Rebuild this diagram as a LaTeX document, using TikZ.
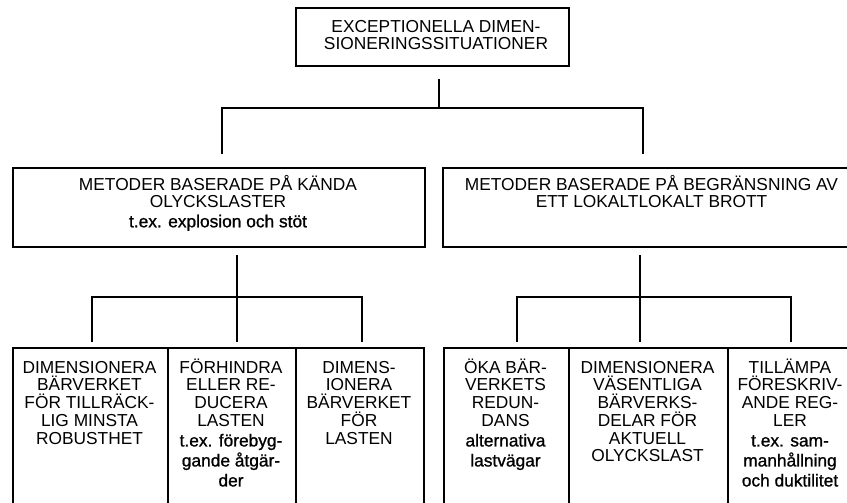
\documentclass[tikz,border=0pt]{standalone}
\usepackage{fontspec}
\setmainfont{Liberation Sans}
\newfontfamily\lcf{Liberation Sans}[FakeBold=1]
\newcommand\firststrut{\rule{0pt}{12.5pt}}
\begin{document}
\begin{tikzpicture}[x=0.75pt,y=-0.75pt,
  box/.style={draw, line width=1.5pt, inner sep=0pt, anchor=north west},
  txt/.style={anchor=north, inner sep=0pt, align=center,
    font=\fontsize{13}{13.3}\selectfont},
  conn/.style={line width=1.5pt, line join=miter}]
\useasboundingbox (0,0) rectangle (847,503);
\begin{scope}
\clip (0,0) rectangle (847,503);
% boxes
\node[box, minimum width=273*0.75pt, minimum height=58*0.75pt] (top) at (295,7) {};
\node[box, minimum width=412*0.75pt, minimum height=79*0.75pt] (ml) at (12,167) {};
\node[box, minimum width=419*0.75pt, minimum height=79*0.75pt] (mr) at (442,167) {};
\node[box, minimum width=155*0.75pt, minimum height=180*0.75pt] (b1) at (12,347) {};
\node[box, minimum width=128*0.75pt, minimum height=180*0.75pt] (b2) at (167,347) {};
\node[box, minimum width=128*0.75pt, minimum height=180*0.75pt] (b3) at (295,347) {};
\node[box, minimum width=125*0.75pt, minimum height=180*0.75pt] (b4) at (443,347) {};
\node[box, minimum width=159*0.75pt, minimum height=180*0.75pt] (b5) at (568,347) {};
\node[box, minimum width=126*0.75pt, minimum height=180*0.75pt] (b6) at (727,347) {};
% texts
\node[txt] (ttop) at (436,15.3) {\firststrut EXCEPTIONELLA DIMEN-\\SIONERINGSSITUATIONER};
\node[txt] (tml) at (218,173.3) {\firststrut METODER BASERADE PÅ KÄNDA\\OLYCKSLASTER\\[1.2pt]\lcf t.ex. explosion och stöt};
\node[txt] (tmr) at (651.5,173.3) {\firststrut METODER BASERADE PÅ BEGRÄNSNING AV\\ETT LOKALTLOKALT BROTT};
\node[txt] (tb1) at (89.5,356.3) {\firststrut DIMENSIONERA\\BÄRVERKET\\FÖR TILLRÄCK-\\LIG MINSTA\\ROBUSTHET};
\node[txt] (tb2) at (231,356.3) {\firststrut FÖRHINDRA\\ELLER RE-\\DUCERA\\LASTEN\\[1.7pt]\lcf t.ex. förebyg-\\[1.7pt]\lcf gande åtgär-\\[1.7pt]\lcf der};
\node[txt] (tb3) at (359,356.3) {\firststrut DIMENS-\\IONERA\\BÄRVERKET\\FÖR\\LASTEN};
\node[txt] (tb4) at (505.5,356.3) {\firststrut ÖKA BÄR-\\VERKETS\\REDUN-\\DANS\\[1.7pt]\lcf alternativa\\[1.7pt]\lcf lastvägar};
\node[txt] (tb5) at (647.5,356.3) {\firststrut DIMENSIONERA\\VÄSENTLIGA\\BÄRVERKS-\\DELAR FÖR\\AKTUELL\\OLYCKSLAST};
\node[txt] (tb6) at (790,356.3) {\firststrut TILLÄMPA\\FÖRESKRIV-\\ANDE REG-\\LER\\[1.7pt]\lcf t.ex. sam-\\[1.7pt]\lcf manhållning\\[1.7pt]\lcf och duktilitet};
% connector points
\coordinate (t0) at (438.5,79);
\coordinate (t1) at (438.5,108);
\coordinate (mlin) at (222,154);
\coordinate (mrin) at (643,154);
\coordinate (lo) at (237,255);
\coordinate (lh) at (237,297);
\coordinate (b1in) at (92,342);
\coordinate (b2in) at (237,342);
\coordinate (b3in) at (362,342);
\coordinate (ro) at (640,255);
\coordinate (rh) at (640,297);
\coordinate (b4in) at (517,342);
\coordinate (b5in) at (640,342);
\coordinate (b6in) at (791,342);
% connectors
\draw[conn] (t0) -- (t1);
\draw[conn] (mlin) |- (t1) -| (mrin);
\draw[conn] (lo) -- (b2in);
\draw[conn] (b1in) |- (lh) -| (b3in);
\draw[conn] (ro) -- (b5in);
\draw[conn] (b4in) |- (rh) -| (b6in);
\end{scope}
\end{tikzpicture}
\end{document}
